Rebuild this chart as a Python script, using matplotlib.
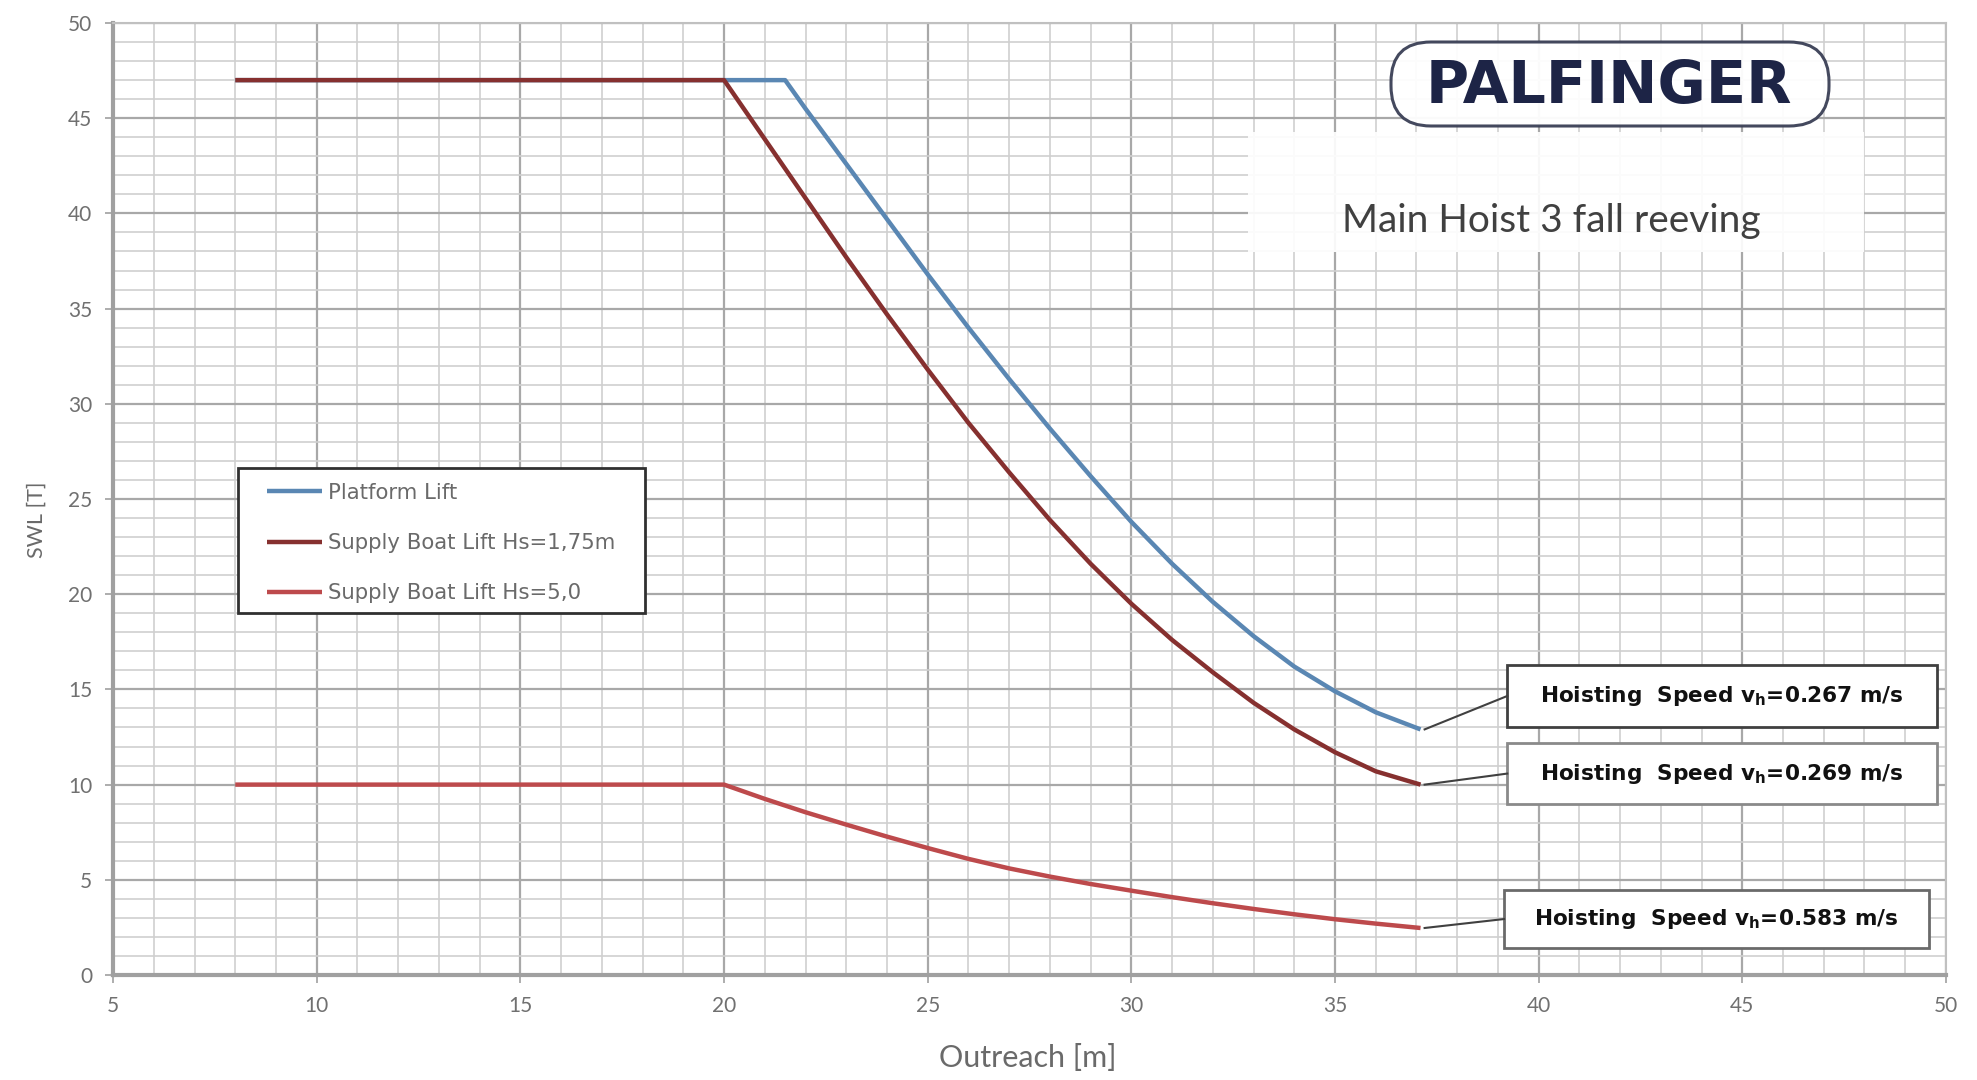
import matplotlib
matplotlib.use("Agg")
import matplotlib.pyplot as plt
from matplotlib.patches import Rectangle, FancyBboxPatch
from matplotlib.transforms import IdentityTransform
from matplotlib.ticker import MultipleLocator

plt.rcParams['font.family'] = ['Lato', 'DejaVu Sans']

# ---------------- data ----------------
x_platform = [8, 21.5, 22, 23, 24, 25, 26, 27, 28, 29, 30, 31, 32, 33, 34, 35, 36, 37.1]
y_platform = [47, 47, 45.5, 42.6, 39.7, 36.8, 34.0, 31.3, 28.7, 26.2, 23.8, 21.6, 19.6, 17.8, 16.2, 14.9, 13.8, 12.9]

x_supply175 = [8, 20, 21, 22, 23, 24, 25, 26, 27, 28, 29, 30, 31, 32, 33, 34, 35, 36, 37.1]
y_supply175 = [47, 47, 43.9, 40.8, 37.7, 34.7, 31.8, 29.0, 26.4, 23.9, 21.6, 19.5, 17.6, 15.9, 14.3, 12.9, 11.7, 10.7, 10.0]

x_supply50 = [8, 20, 21, 22, 23, 24, 25, 26, 27, 28, 29, 30, 31, 32, 33, 34, 35, 36, 37.1]
y_supply50 = [10, 10, 9.25, 8.55, 7.9, 7.27, 6.67, 6.1, 5.6, 5.17, 4.78, 4.43, 4.09, 3.77, 3.47, 3.19, 2.93, 2.70, 2.47]

series_labels = ["Platform Lift", "Supply Boat Lift Hs=1,75m", "Supply Boat Lift Hs=5,0"]
series_colors = ["#5a87b3", "#86302f", "#bd4a4c"]
speed_labels = ["Hoisting  Speed v$_\\mathregular{h}$=0.267 m/s",
                "Hoisting  Speed v$_\\mathregular{h}$=0.269 m/s",
                "Hoisting  Speed v$_\\mathregular{h}$=0.583 m/s"]

x_ticks = [5, 10, 15, 20, 25, 30, 35, 40, 45, 50]
y_ticks = [0, 5, 10, 15, 20, 25, 30, 35, 40, 45, 50]

# ---------------- figure ----------------
fig = plt.figure(figsize=(19.77, 10.8), dpi=100)
ax = fig.add_axes([0.0572, 0.0972, 0.9271, 0.8815])
ax.set_xlim(5, 50)
ax.set_ylim(0, 50)

ax.xaxis.set_major_locator(MultipleLocator(5))
ax.yaxis.set_major_locator(MultipleLocator(5))
ax.xaxis.set_minor_locator(MultipleLocator(1))
ax.yaxis.set_minor_locator(MultipleLocator(1))
ax.grid(which='minor', color='#cfcfcf', linewidth=1.2)
ax.grid(which='major', color='#a8a8a8', linewidth=1.6)
ax.set_axisbelow(True)

ax.set_xticks(x_ticks)
ax.set_yticks(y_ticks)
ax.tick_params(which='major', direction='out', length=6, width=1.2, color='#a0a0a0',
               labelsize=15, labelcolor='#707070', pad=9)
ax.tick_params(which='minor', length=0)

for side in ['top', 'right']:
    ax.spines[side].set_color('#c0c0c0')
    ax.spines[side].set_linewidth(1.5)
for side in ['left', 'bottom']:
    ax.spines[side].set_color('#a0a0a0')
    ax.spines[side].set_linewidth(3)

ax.set_xlabel("Outreach [m]", fontsize=22, color='#6a6a6a')
ax.xaxis.set_label_coords(0.499, -0.072)
ax.set_ylabel("SWL [T]", fontsize=15.5, color='#6a6a6a')
ax.yaxis.set_label_coords(-0.036, 0.478)

lines = []
for xs, ys, lab, col in zip([x_platform, x_supply175, x_supply50],
                            [y_platform, y_supply175, y_supply50],
                            series_labels, series_colors):
    ln, = ax.plot(xs, ys, color=col, linewidth=3.2, label=lab, solid_capstyle='butt', zorder=3)
    lines.append(ln)

# legend frame + legend
ax.add_patch(Rectangle(((238 - 113) / 1833, (975 - 613) / 952), 407 / 1833, 145 / 952,
                       transform=ax.transAxes, facecolor='white', edgecolor='#303030',
                       linewidth=2, zorder=5))
leg = ax.legend(handles=lines, loc='upper left', bbox_to_anchor=(0.0840, 0.517),
                borderaxespad=0, frameon=False,
                handlelength=2.6, handletextpad=0.25, labelspacing=1.42,
                borderpad=0, labelcolor='#6a6a6a', prop={'family': 'DejaVu Sans', 'size': 15.3})
leg.set_zorder(6)

# title box
ax.add_patch(Rectangle((1248 / 1977, 1 - 252 / 1080), 616 / 1977, 120 / 1080,
                       transform=fig.transFigure, facecolor='white', edgecolor='none',
                       alpha=0.92, zorder=4, clip_on=False))
fig.text(1551 / 1977, 1 - 221 / 1080, "Main Hoist 3 fall reeving", fontsize=28,
         color='#404040', ha='center', va='center', zorder=5)

# logo (pixel coordinates)
ax.add_patch(FancyBboxPatch((1391, 1080 - 126), 438, 84,
                            boxstyle="round,pad=0,rounding_size=40",
                            transform=IdentityTransform(),
                            facecolor='white', edgecolor='#3a3f55', linewidth=2.2,
                            alpha=0.95, zorder=4, clip_on=False))
fig.text(1609 / 1977, 1 - 86 / 1080, "PALFINGER", fontsize=42.5, fontweight='bold',
         family='DejaVu Sans', color='#1d2446', ha='center', va='center', zorder=5)

# hoisting speed boxes (data coords)
box_x0 = [39.23, 39.23, 39.15]
box_x1 = [49.78, 49.78, 49.59]
box_y0 = [13.03, 8.98, 1.42]
box_y1 = [16.28, 12.18, 4.46]
box_edge = ['#404040', '#8a8a8a', '#6a6a6a']
ends_x = [x_platform[-1], x_supply175[-1], x_supply50[-1]]
ends_y = [y_platform[-1], y_supply175[-1], y_supply50[-1]]
for i in range(3):
    ax.add_patch(Rectangle((box_x0[i], box_y0[i]), box_x1[i] - box_x0[i], box_y1[i] - box_y0[i],
                           facecolor='white', edgecolor=box_edge[i], linewidth=2, zorder=4))
    ax.text((box_x0[i] + box_x1[i]) / 2, (box_y0[i] + box_y1[i]) / 2, speed_labels[i],
            fontsize=15.6, fontweight='bold', family='DejaVu Sans', color='#111111',
            ha='center', va='center', zorder=5)
    ax.plot([ends_x[i] + 0.1, box_x0[i]], [ends_y[i], (box_y0[i] + box_y1[i]) / 2],
            color='#404040', linewidth=1.5, zorder=4)

fig.savefig("out.png", dpi=100)
